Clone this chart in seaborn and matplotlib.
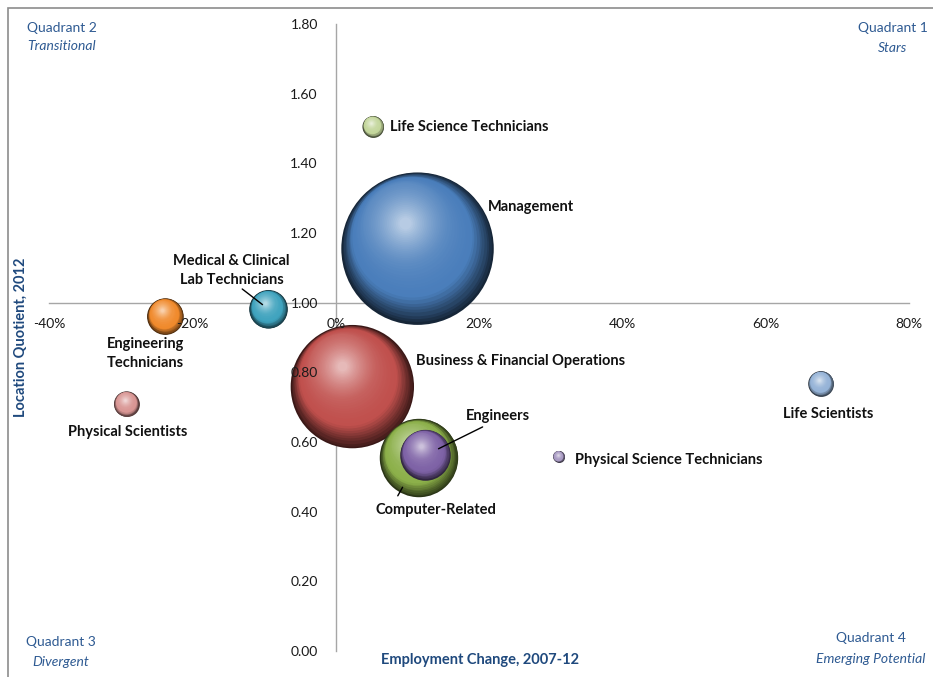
import numpy as np
import pandas as pd
import matplotlib
matplotlib.use("Agg")
import matplotlib.pyplot as plt
import matplotlib.transforms as mtransforms
from matplotlib.colors import to_rgb
from matplotlib.patches import Rectangle
import seaborn as sns

# ---- data -------------------------------------------------------------
occupations = [
    "Management",
    "Business & Financial Operations",
    "Computer-Related",
    "Engineers",
    "Medical & Clinical\nLab Technicians",
    "Engineering\nTechnicians",
    "Physical Scientists",
    "Life Scientists",
    "Life Science Technicians",
    "Physical Science Technicians",
]
employment_change_pct = [11.4, 2.3, 11.6, 12.5, -9.4, -23.8, -29.2, 67.7, 5.2, 31.1]
location_quotient = [1.155, 0.759, 0.554, 0.562, 0.981, 0.960, 0.709, 0.767, 1.505, 0.558]
employment_2012 = [5820, 3810, 1540, 670, 372, 335, 161, 161, 114, 32]
bubble_colors = ["#4a7ebb", "#c0504d", "#8cb04a", "#7e62a6", "#3fa3be",
                 "#f08a2c", "#d99694", "#95b3d7", "#c3d69b", "#a99bc4"]

x_ticks = [-40, -20, 0, 20, 40, 60, 80]
y_ticks = [0.0, 0.2, 0.4, 0.6, 0.8, 1.0, 1.2, 1.4, 1.6, 1.8]

df = pd.DataFrame({
    "occupation": occupations,
    "change": employment_change_pct,
    "lq": location_quotient,
    "employment": employment_2012,
})

# ---- figure -------------------------------------------------------------
sns.set_theme(style="white")
plt.rcParams["font.family"] = ["Lato", "DejaVu Sans"]

W, H = 933, 677
fig = plt.figure(figsize=(W / 100, H / 100), dpi=100)
ax = fig.add_axes([49.3 / W, 1 - 651 / H, (909 - 49.3) / W, (651 - 24) / H])
ax.set_xlim(-40, 80)
ax.set_ylim(0, 1.8)

# area in points^2 proportional to employment
area_per_job = 2.07
s_of = lambda v: area_per_job * v

def darken(c, f):
    r, g, b = to_rgb(c)
    return (r * f, g * f, b * f)

def lighten(c, f):
    r, g, b = to_rgb(c)
    return (r + (1 - r) * f, g + (1 - g) * f, b + (1 - b) * f)

palette = {o: darken(c, 0.3) for o, c in zip(occupations, bubble_colors)}
sns.scatterplot(data=df, x="change", y="lq", hue="occupation", palette=palette,
                size="employment",
                sizes=(s_of(min(employment_2012)), s_of(max(employment_2012))),
                size_norm=(min(employment_2012), max(employment_2012)),
                linewidth=0, legend=False, ax=ax, zorder=3, clip_on=False)

# sphere shading: nested discs drifting toward the upper-left light source
steps = 40
direction = np.array([-0.45, 0.89])
z = 3
for occ, xv, yv, emp, col in zip(occupations, employment_change_pct,
                                 location_quotient, employment_2012, bubble_colors):
    s = s_of(emp)
    r_pt = np.sqrt(s) / 2
    dark = np.array(darken(col, 0.3))
    base = np.array(to_rgb(col))
    light = np.array(lighten(col, 0.6))
    for t in np.linspace(0, 1, steps)[1:]:
        if t < 0.22:
            u = t / 0.22
            c = dark * (1 - u) + base * u
        else:
            u = ((t - 0.22) / 0.78) ** 1.7
            c = base * (1 - u) + light * u
        f = 1 - 0.92 * t
        off = direction * min(0.75 * t, 0.38) * r_pt
        tr = mtransforms.offset_copy(ax.transData, fig=fig, x=off[0], y=off[1], units="points")
        ax.scatter([xv], [yv], s=s * f ** 2, color=[tuple(c)], linewidths=0,
                   transform=tr, zorder=z + 0.01, clip_on=False)
    z += 0.1

# ---- axes crossing at (0%, 1.00) -----------------------------------------
for side in ["top", "right"]:
    ax.spines[side].set_visible(False)
ax.spines["left"].set_position(("data", 0))
ax.spines["bottom"].set_position(("data", 1.0))
for side in ["left", "bottom"]:
    ax.spines[side].set_color("#a6a6a6")
    ax.spines[side].set_linewidth(1.0)
    ax.spines[side].set_zorder(1)
ax.set_xticks(x_ticks)
ax.set_xticklabels([f"{v}%" for v in x_ticks])
ax.set_yticks(y_ticks)
ax.set_yticklabels([f"{v:.2f}" for v in y_ticks])
ax.tick_params(axis="both", direction="out", length=4, width=1, color="#a6a6a6",
               labelsize=10, labelcolor="#1a1a1a", pad=7)
ax.tick_params(axis="y", pad=9)
ax.xaxis.set_zorder(20)
ax.yaxis.set_zorder(20)
ax.set_xlabel("")
ax.set_ylabel("")
ax.grid(False)

# ---- bubble labels --------------------------------------------------------
px = 0.72  # pixels -> points
label_layout = {
    "Management": ((70, 41.7), "left"),
    "Business & Financial Operations": ((63.4, 25.7), "left"),
    "Computer-Related": ((17, -52), "center"),
    "Engineers": ((73, 39), "center"),
    "Medical & Clinical\nLab Technicians": ((-37, 39), "center"),
    "Engineering\nTechnicians": ((-20, -37), "center"),
    "Physical Scientists": ((1, -28), "center"),
    "Life Scientists": ((7, -30), "center"),
    "Life Science Technicians": ((16.7, 0), "left"),
    "Physical Science Technicians": ((16.7, -3), "left"),
}
for occ, xv, yv in zip(occupations, employment_change_pct, location_quotient):
    (dx, dy), ha = label_layout[occ]
    ax.annotate(occ, xy=(xv, yv), xytext=(dx * px, dy * px), textcoords="offset points",
                ha=ha, va="center", fontsize=10.5, fontweight="bold", color="#111111",
                linespacing=1.45, zorder=30, annotation_clip=False)

# leader lines: (start offset px, distance kept from the bubble centre px)
leaders = {
    "Medical & Clinical\nLab Technicians": ((-26.3, 20.3), 7.6),
    "Engineers": ((57.2, 28.3), 14.6),
    "Computer-Related": ((-21.2, -37.8), 33.5),
}
for occ, ((sx, sy), keep) in leaders.items():
    i = occupations.index(occ)
    ax.annotate("", xy=(employment_change_pct[i], location_quotient[i]),
                xytext=(sx * px, sy * px), textcoords="offset points",
                arrowprops=dict(arrowstyle="-", color="black", lw=1.0,
                                shrinkA=0, shrinkB=keep * px),
                zorder=31, annotation_clip=False)

# ---- axis titles and quadrant captions -------------------------------------
title_color = "#1f497d"
fig.text(480 / W, 1 - 660 / H, "Employment Change, 2007-12", ha="center", va="center",
         fontsize=10.5, fontweight="bold", color=title_color)
fig.text(21 / W, 1 - 337 / H, "Location Quotient, 2012", ha="center", va="center",
         rotation=90, fontsize=10.5, fontweight="bold", color=title_color)

quad_color = "#2e5a92"
quadrants = [
    (62, 28, 46, "Quadrant 2", "Transitional"),
    (893, 28, 48, "Quadrant 1", "Stars"),
    (61, 642, 662, "Quadrant 3", "Divergent"),
    (871, 638, 659, "Quadrant 4", "Emerging Potential"),
]
for cx, y1, y2, head, sub in quadrants:
    fig.text(cx / W, 1 - y1 / H, head, ha="center", va="center", fontsize=10, color=quad_color)
    fig.text(cx / W, 1 - y2 / H, sub, ha="center", va="center", fontsize=10,
             style="italic", color=quad_color)

# chart frame
fig.patches.append(Rectangle((8 / W, -0.1), 1.2, 1 - 8 / H + 0.1, transform=fig.transFigure,
                             fill=False, edgecolor="#8c8c8c", linewidth=1.2, zorder=0))

fig.savefig("out.png", dpi=100)
